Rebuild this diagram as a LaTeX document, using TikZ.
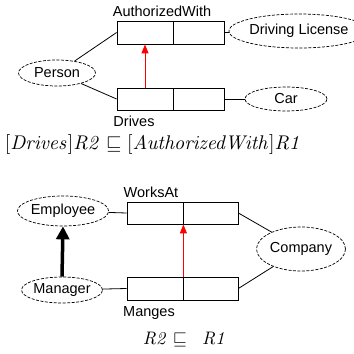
\documentclass[tikz,border=0pt]{standalone}
\usepackage[no-math]{fontspec}
\usepackage{amssymb}
\usepackage{graphicx}
\setmainfont{Liberation Sans}
\usetikzlibrary{arrows.meta,shapes.geometric}
\tikzset{
  cell/.style={draw, line width=0.8pt, inner sep=0pt, minimum height=22pt},
  ent/.style={draw, ellipse, dash pattern=on 3pt off 1.5pt, line width=0.7pt, inner sep=0pt, font=\fontsize{14.5}{16}\selectfont},
  conn/.style={line width=0.8pt},
  redarrow/.style={draw=red, line width=1pt, -{Triangle[length=9pt,width=7pt]}},
  isa/.style={line width=3.5pt, -{Triangle[length=13pt,width=13pt]}},
  lbl/.style={inner sep=0pt, font=\fontsize{14.5}{16}\selectfont},
}
\begin{document}
\begin{tikzpicture}[x=1pt,y=-1pt]
\useasboundingbox (0,0) rectangle (354,354);
% ---- top diagram ----
\node[cell, minimum width=56pt, minimum height=23pt] (aw1) at (145,32.5) {};
\node[cell, minimum width=51pt, minimum height=23pt] (aw2) at (198.5,32.5) {};
\node[cell, minimum width=56pt] (dr1) at (145,99) {};
\node[cell, minimum width=51pt] (dr2) at (198.5,99) {};
\node[lbl] (awl) at (162,11) {AuthorizedWith};
\node[lbl] (drl) at (134,121) {Drives};
\node[ent, minimum width=77pt, minimum height=26pt] (person) at (57,73) {Person};
\node[ent, minimum width=106pt, minimum height=34pt] (dl) at (299,31) {Driving License};
\node[ent, minimum width=82pt, minimum height=24pt] (car) at (286,99) {Car};
\draw[conn] (person) -- (aw1.west);
\draw[conn] (person) -- (dr1.west);
\draw[conn] (aw2.east) -- (dl);
\draw[conn] (dr2.east) -- (car);
\draw[redarrow] (dr1.north) -- (aw1.south);
\node[inner sep=0pt] (f1) at (153.5,145) {\resizebox{297pt}{!}{$[\mathit{Drives}]\mathit{R2}\sqsubseteq[\mathit{AuthorizedWith}]\mathit{R1}$}};
% ---- bottom diagram ----
\node[cell, minimum width=56pt] (wa1) at (155,213) {};
\node[cell, minimum width=55pt] (wa2) at (210.5,213) {};
\node[cell, minimum width=56pt, minimum height=23pt] (mg1) at (155,288.5) {};
\node[cell, minimum width=55pt, minimum height=23pt] (mg2) at (210.5,288.5) {};
\node[lbl] (wal) at (151,192) {WorksAt};
\node[lbl] (mgl) at (149,313) {Manges};
\node[ent, minimum width=77pt, minimum height=30pt] (emp) at (63,211) {Employee};
\node[ent, minimum width=71pt, minimum height=26pt] (man) at (62,290) {Manager};
\node[ent, minimum width=89pt, minimum height=44pt] (comp) at (301,249) {Company};
\draw[conn] (emp) -- (wa1.west);
\draw[conn] (man) -- (mg1.west);
\draw[conn] (wa2.east) -- (comp);
\draw[conn] (mg2.east) -- (comp);
\draw[redarrow] (mg1.north east) -- (wa1.south east);
\draw[isa] (man.north) -- (emp.south);
\node[inner sep=0pt] (f2) at (185,340) {\resizebox{84pt}{!}{$\mathit{R2}\sqsubseteq\;\;\mathit{R1}$}};
\end{tikzpicture}
\end{document}
